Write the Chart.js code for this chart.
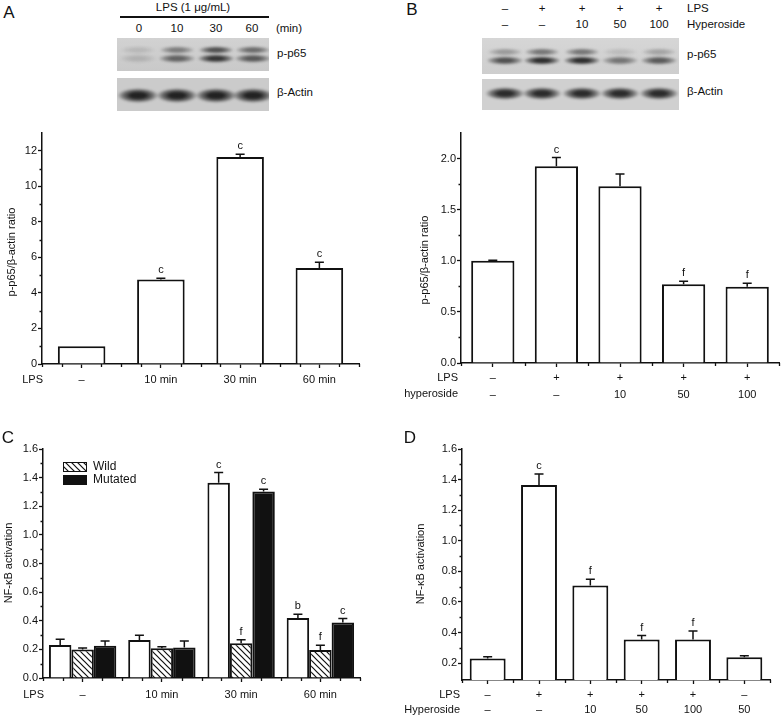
<!DOCTYPE html>
<html>
<head>
<meta charset="utf-8">
<script src="https://cdn.jsdelivr.net/npm/chart.js@4.4.1/dist/chart.umd.min.js"></script>
<style>
body { margin: 0; background: #fff; }
#fig { position: relative; width: 784px; height: 719px; overflow: hidden;
       font-family: "Liberation Sans", Arial, sans-serif; color: #111; }
.t { position: absolute; font-size: 11.5px; white-space: nowrap; line-height: 1; }
.p { position: absolute; font-size: 17px; line-height: 1; }
canvas { position: absolute; }
.blot { position: absolute; overflow: hidden; }
.band { position: absolute; border-radius: 50%; filter: blur(1px); }
</style>
</head>
<body>
<div id="fig">
  <canvas id="chartA" width="392" height="267" style="left:0;top:123px"></canvas>
  <canvas id="chartB" width="392" height="285" style="left:392px;top:123px"></canvas>
  <canvas id="chartC" width="392" height="280" style="left:0;top:439px"></canvas>
  <canvas id="chartD" width="392" height="280" style="left:392px;top:439px"></canvas>
</div>
<script>
// ---- data ----
// A: p-p65 vs LPS time
const catsA = ["–", "10 min", "30 min", "60 min"];
const ratioA = [1.0, 4.75, 11.65, 5.4];
const errA = [0, 0.08, 0.15, 0.33];
const sigA = ["", "c", "c", "c"];
const yTicksA = [0, 2, 4, 6, 8, 10, 12];

// B: p-p65 with hyperoside
const lpsB = ["–", "+", "+", "+", "+"];
const hypB = ["–", "–", "10", "50", "100"];
const ratioB = [1.0, 1.925, 1.73, 0.77, 0.745];
const errB = [0.005, 0.085, 0.12, 0.03, 0.035];
const sigB = ["", "c", "", "f", "f"];
const yTicksB = [0, 0.5, 1.0, 1.5, 2.0];

// C: NF-kB activation, wild / mutated
const catsC = ["–", "10 min", "30 min", "60 min"];
const ctrlC = [0.23, 0.265, 1.365, 0.42];
const wildC = [0.20, 0.208, 0.243, 0.196];
const mutC = [0.225, 0.213, 1.303, 0.387];
const ctrlErrC = [0.04, 0.033, 0.07, 0.025];
const wildErrC = [0.01, 0.01, 0.025, 0.032];
const mutErrC = [0.033, 0.045, 0.015, 0.028];
const ctrlSigC = ["", "", "c", "b"];
const wildSigC = ["", "", "f", "f"];
const mutSigC = ["", "", "c", "c"];
const yTicksC = [0, 0.2, 0.4, 0.6, 0.8, 1.0, 1.2, 1.4, 1.6];

// D: NF-kB activation with hyperoside
const lpsD = ["–", "+", "+", "+", "+", "–"];
const hypD = ["–", "–", "10", "50", "100", "50"];
const actD = [0.23, 1.365, 0.708, 0.355, 0.355, 0.238];
const errD = [0.012, 0.072, 0.04, 0.026, 0.055, 0.01];
const sigD = ["", "c", "f", "f", "f", ""];
const yTicksD = [0.2, 0.4, 0.6, 0.8, 1.0, 1.2, 1.4, 1.6];

const FONT = "Liberation Sans";
const fig = document.getElementById("fig");

// ---- texts and blots ----
function addText(txt, x, y, cls, left) {
	const d = document.createElement("div");
	d.className = cls || "t";
	d.textContent = txt;
	d.style.left = x + "px";
	d.style.top = y + "px";
	d.style.transform = left ? "translate(0,-50%)" : "translate(-50%,-50%)";
	fig.appendChild(d);
}

function addBlot(x, y, w, h, bg, bands) {
	const b = document.createElement("div");
	b.className = "blot";
	Object.assign(b.style, { left: x + "px", top: y + "px", width: w + "px", height: h + "px", background: bg });
	bands.forEach(([cx, cy, bw, bh, a]) => {
		const s = document.createElement("div");
		s.className = "band";
		Object.assign(s.style, {
			left: (cx - x - bw / 2) + "px", top: (cy - y - bh / 2) + "px",
			width: bw + "px", height: bh + "px",
			background: `radial-gradient(closest-side, rgba(25,25,25,${a}) 35%, rgba(25,25,25,${a * 0.55}) 70%, rgba(25,25,25,0) 100%)`
		});
		b.appendChild(s);
	});
	fig.appendChild(b);
}

addText("A", 9, 12, "p");
addText("B", 412, 9, "p");
addText("C", 8, 437, "p");
addText("D", 410, 437, "p");

addText("LPS (1 μg/mL)", 193, 8);
const rule = document.createElement("div");
Object.assign(rule.style, { position: "absolute", left: "120px", top: "16px", width: "149px", height: "1.5px", background: "#111" });
fig.appendChild(rule);
[["0", 139], ["10", 177], ["30", 216], ["60", 252], ["(min)", 289]].forEach(([s, x]) => addText(s, x, 29));

const lanesA = [138, 177, 216, 253];
addBlot(117, 38, 152, 33, "linear-gradient(#d2d2d2,#c9c9c9)", [
	...lanesA.map((x, i) => [x, 50, 36, 8, [0.12, 0.45, 0.7, 0.55][i]]),
	...lanesA.map((x, i) => [x, 58, 38, 9, [0.15, 0.6, 0.85, 0.65][i]])
]);
addBlot(117, 78, 152, 33, "#cbcbcb", lanesA.map(x => [x, 95, 42, 15, 0.95]));
addText("p-p65", 277, 54, "t", true);
addText("β-Actin", 277, 93, "t", true);

const lanesB = [505, 542, 582, 620, 659];
[["–", "–"], ["+", "–"], ["+", "10"], ["+", "50"], ["+", "100"]].forEach(([a, b], i) => {
	addText(a, lanesB[i], 9);
	addText(b, lanesB[i], 25);
});
addText("LPS", 687, 9, "t", true);
addText("Hyperoside", 687, 25, "t", true);
addBlot(482, 38, 197, 36, "linear-gradient(#d6d6d6,#cecece)", [
	...lanesB.map((x, i) => [x, 52, 36, 8, [0.3, 0.5, 0.5, 0.12, 0.25][i]]),
	...lanesB.map((x, i) => [x, 60, 38, 9, [0.7, 0.9, 0.9, 0.5, 0.65][i]])
]);
addBlot(482, 79, 197, 31, "#d0d0d0", lanesB.map(x => [x, 93, 40, 13, 0.9]));
addText("p-p65", 687, 55, "t", true);
addText("β-Actin", 687, 92, "t", true);

// ---- chart helpers ----
function hatch() {
	const c = document.createElement("canvas");
	c.width = c.height = 6;
	const g = c.getContext("2d");
	g.fillStyle = "#fff";
	g.fillRect(0, 0, 6, 6);
	g.strokeStyle = "#111";
	g.lineWidth = 1.2;
	g.beginPath();
	g.moveTo(-1, -1); g.lineTo(7, 7);
	g.moveTo(-4, 2); g.lineTo(4, 10);
	g.moveTo(2, -4); g.lineTo(10, 4);
	g.stroke();
	return g.createPattern(c, "repeat");
}

const extras = {
	id: "extras",
	afterDatasetsDraw(chart, args, o) {
		const { ctx, scales: { y } } = chart;
		ctx.save();
		ctx.strokeStyle = "#111";
		ctx.fillStyle = "#111";
		ctx.lineWidth = 1.5;
		ctx.font = "11px " + FONT;
		ctx.textAlign = "center";
		ctx.textBaseline = "middle";
		chart.data.datasets.forEach((ds, di) => {
			chart.getDatasetMeta(di).data.forEach((bar, i) => {
				const e = ds.err[i];
				const top = y.getPixelForValue(ds.data[i] + e);
				if (e > 0) {
					ctx.beginPath();
					ctx.moveTo(bar.x, bar.y);
					ctx.lineTo(bar.x, top);
					ctx.moveTo(bar.x - 4.5, top);
					ctx.lineTo(bar.x + 4.5, top);
					ctx.stroke();
				}
				if (ds.sig[i]) ctx.fillText(ds.sig[i], bar.x, top - 8);
			});
		});
		ctx.restore();
	},
	afterDraw(chart, args, o) {
		const { ctx, chartArea: a, scales: { x, y } } = chart;
		ctx.save();
		ctx.strokeStyle = "#111";
		ctx.fillStyle = "#111";
		ctx.lineWidth = 1.3;
		ctx.beginPath();
		// minor x ticks
		const n = chart.data.labels.length;
		for (let i = 0; i < n; i++) {
			o.xMinor.forEach(off => {
				const px = Math.round(x.getPixelForValue(i + off)) + 0.5;
				ctx.moveTo(px, a.bottom);
				ctx.lineTo(px, a.bottom + 3);
			});
		}
		// minor y ticks
		const t = o.yTicks;
		for (let i = 0; i < t.length - 1; i++) {
			const py = Math.round(y.getPixelForValue((t[i] + t[i + 1]) / 2)) + 0.5;
			ctx.moveTo(a.left, py);
			ctx.lineTo(a.left - 2.5, py);
		}
		ctx.stroke();
		// row headers under the x axis
		ctx.font = "11px " + FONT;
		ctx.textAlign = "right";
		ctx.textBaseline = "middle";
		o.headers.forEach((h, i) => ctx.fillText(h, a.left + o.headerDx, o.headerY + i * o.rowH));
		// y title
		ctx.save();
		ctx.translate(o.titleX, o.titleY);
		ctx.rotate(-Math.PI / 2);
		ctx.textAlign = "center";
		ctx.fillText(o.title, 0, 0);
		ctx.restore();
		// legend (panel C)
		if (o.legend) {
			ctx.font = "12px " + FONT;
			ctx.textAlign = "left";
			o.legend.forEach(([label, fill, lx, ly]) => {
				ctx.fillStyle = fill;
				ctx.fillRect(lx, ly, 24, 10);
				ctx.strokeStyle = "#111";
				ctx.lineWidth = 1;
				ctx.strokeRect(lx + 0.5, ly + 0.5, 23, 9);
				ctx.fillStyle = "#111";
				ctx.fillText(label, lx + 30, ly + 5);
			});
		}
		ctx.restore();
	}
};

function makeChart(id, p) {
	return new Chart(document.getElementById(id), {
		type: "bar",
		data: { labels: p.labels, datasets: p.datasets },
		options: {
			responsive: false,
			animation: false,
			events: [],
			layout: { padding: { left: 0, top: p.top, right: p.right, bottom: 0 } },
			datasets: { bar: { categoryPercentage: p.catPct, barPercentage: p.barPct, borderWidth: 2, borderColor: "#111" } },
			plugins: {
				legend: { display: false },
				tooltip: { enabled: false },
				extras: p.extras
			},
			scales: {
				x: {
					z: 1,
					afterFit: s => { s.height = p.xH; },
					border: { color: "#111", width: 1.5 },
					grid: { display: true, drawOnChartArea: false, offset: false, tickLength: 4, tickColor: "#111", tickWidth: 1.3 },
					ticks: { color: "#111", padding: p.xPad, font: { family: FONT, size: 11, lineHeight: p.lineH }, maxRotation: 0, autoSkip: false }
				},
				y: {
					z: 1,
					min: p.min,
					max: p.max,
					afterFit: s => { s.width = p.yW; },
					afterBuildTicks: s => { s.ticks = p.yTicks.map(v => ({ value: v })); },
					border: { color: "#111", width: 1.5 },
					grid: { display: true, drawOnChartArea: false, tickLength: 4, tickColor: "#111", tickWidth: 1.3 },
					ticks: { color: "#111", padding: 1, font: { family: FONT, size: 11 }, callback: p.fmt }
				}
			}
		},
		plugins: [extras]
	});
}

const white = "#fff";
const black = "#111";

makeChart("chartA", {
	labels: catsA,
	datasets: [{ data: ratioA, err: errA, sig: sigA, backgroundColor: white }],
	top: 10, right: 33, xH: 26, yW: 42, xPad: 5, lineH: 1.2,
	catPct: 1, barPct: 0.6, min: 0, max: 13, yTicks: yTicksA,
	fmt: v => String(v),
	extras: { xMinor: [-0.5, -0.25, 0.25, 0.5], yTicks: yTicksA, headers: ["LPS"], headerDx: 1, headerY: 257, rowH: 0,
		title: "p-p65/β-actin ratio", titleX: 12, titleY: 129 }
});

makeChart("chartB", {
	labels: lpsB.map((l, i) => [l, hypB[i]]),
	datasets: [{ data: ratioB, err: errB, sig: sigB, backgroundColor: white }],
	top: 10, right: 5, xH: 45, yW: 69, xPad: 2, lineH: 17 / 11,
	catPct: 1, barPct: 0.68, min: 0, max: 2.25, yTicks: yTicksB,
	fmt: v => v.toFixed(1),
	extras: { xMinor: [-0.5, 0.5], yTicks: yTicksB, headers: ["LPS", "hyperoside"], headerDx: -3, headerY: 255, rowH: 16,
		title: "p-p65/β-actin ratio", titleX: 33, titleY: 137 }
});

makeChart("chartC", {
	labels: catsC,
	datasets: [
		{ data: ctrlC, err: ctrlErrC, sig: ctrlSigC, backgroundColor: white },
		{ data: wildC, err: wildErrC, sig: wildSigC, backgroundColor: hatch() },
		{ data: mutC, err: mutErrC, sig: mutSigC, backgroundColor: black }
	],
	top: 10, right: 32, xH: 41, yW: 43, xPad: 6, lineH: 1.2,
	catPct: 0.85, barPct: 1, min: 0, max: 1.6, yTicks: yTicksC,
	fmt: v => v.toFixed(1),
	extras: { xMinor: [-0.5, -0.25, 0.25, 0.5], yTicks: yTicksC, headers: ["LPS"], headerDx: 1, headerY: 256, rowH: 0,
		title: "NF-κB activation", titleX: 9, titleY: 124,
		legend: [["Wild", hatch(), 63, 23], ["Mutated", black, 63, 36]] }
});

makeChart("chartD", {
	labels: lpsD.map((l, i) => [l, hypD[i]]),
	datasets: [{ data: actD, err: errD, sig: sigD, backgroundColor: white }],
	top: 10, right: 14, xH: 39, yW: 70, xPad: 3, lineH: 15 / 11,
	catPct: 1, barPct: 0.7, min: 0.09, max: 1.6, yTicks: yTicksD,
	fmt: v => v.toFixed(1),
	extras: { xMinor: [-0.5, 0.5], yTicks: yTicksD, headers: ["LPS", "Hyperoside"], headerDx: -2, headerY: 256, rowH: 15,
		title: "NF-κB activation", titleX: 29, titleY: 125 }
});
</script>
</body>
</html>
